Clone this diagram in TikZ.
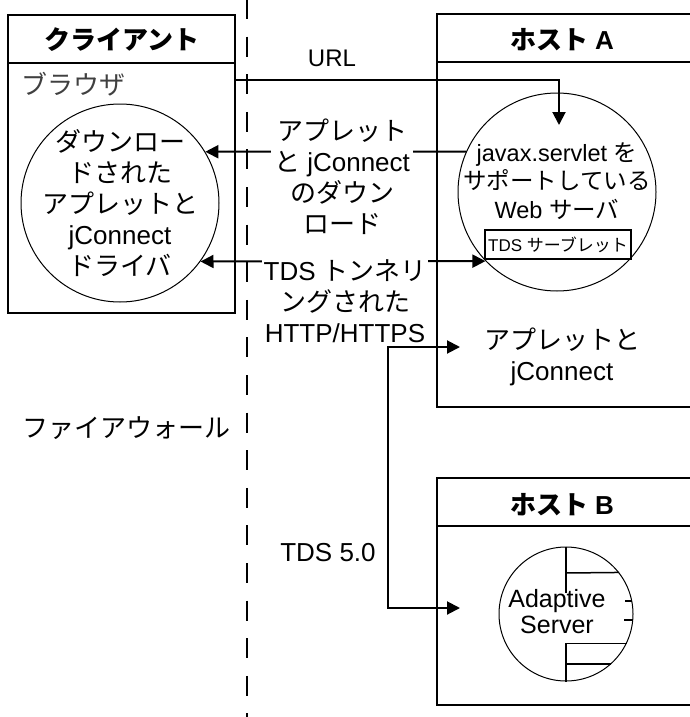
\documentclass[tikz,border=0pt]{standalone}
\usepackage{fontspec}
\setmainfont{Liberation Sans}
\newfontfamily\jp{Noto Sans CJK JP}
\newcommand{\ja}[1]{{\jp #1}}
\usetikzlibrary{arrows.meta}
\usetikzlibrary{shapes}

\begin{document}
\begin{tikzpicture}[x=1pt, y=-1pt,
        frame/.style={line width=2pt},
        proc/.style={circle, draw, line width=1pt, inner sep=0pt},
        lbl/.style={align=center, font=\fontsize{26}{31}\selectfont},
        head/.style={font=\fontsize{26}{31}\selectfont\bfseries},
        arr/.style={line width=2pt, -{Triangle[length=13pt,width=13pt]}},
        arrs/.style={line width=2pt, {Triangle[length=13pt,width=13pt]}-{Triangle[length=13pt,width=13pt]}}]
        \useasboundingbox (0,0) rectangle (690,717);
        \draw[line width=2pt, dash pattern=on 20pt off 17.6pt] (247,-1) -- (247,717);

        \node[frame, draw, inner sep=0pt, minimum width=227pt, minimum height=298pt] (client) at (121.5,164) {};
        \draw[frame] (client.west |- 0,63) -- (client.east |- 0,63);
        \node[head] (clhead) at (122,40) {\ja{クライアント}};
        \node[lbl, text=black!75, anchor=west] (browser) at (18,84) {\ja{ブラウザ}};
        \node[proc, minimum size=198pt] (cl) at (120,203) {};
        \node[lbl] (cltext) at (cl) {\ja{ダウンロー}\\ \ja{ドされた}\\ \ja{アプレットと}\\ jConnect\\ \ja{ドライバ}};

        \draw[frame] (690,14) -- (437,14) -- (437,407) -- (690,407);
        \draw[frame] (437,62) -- (690,62);
        \node[head] (hahead) at (562,40) {\ja{ホスト} A};
        \node[proc, minimum size=198pt] (web) at (557,192) {};
        \node[lbl, font=\fontsize{23.5}{28.5}\selectfont] (webtext) at (557,181) {javax.servlet \ja{を}\\ \ja{サポートしている}\\ Web \ja{サーバ}};
        \node[draw, line width=1.5pt, minimum width=146pt, minimum height=29pt, inner sep=1pt,
            font=\fontsize{17}{20}\selectfont] (servlet) at (558,244.5) {TDS \ja{サーブレット}};
        \node[lbl] (ajc) at (562,357) {\ja{アプレットと}\\ jConnect};

        \draw[frame] (690,478) -- (437,478) -- (437,705) -- (690,705);
        \draw[frame] (437,526) -- (690,526);
        \node[head] (hbhead) at (562,505) {\ja{ホスト} B};
        \node[proc, minimum size=134pt] (as) at (566,614) {};
        \node[lbl, font=\fontsize{25}{26}\selectfont] (astext) at (557,612) {Adaptive\\ Server};
        \draw[line width=1.5pt] (as.north) -- ++(0,46);
        \draw[line width=1.5pt] (as.north |- 0,573) -- (as.38);
        \draw[line width=1.5pt] ([xshift=-7pt]as.11) -- (as.11);
        \draw[line width=1.5pt] ([xshift=-9pt]as.-5) -- (as.-5);
        \draw[line width=1.5pt] (as.-26) -- (as.south |- as.-26) -- (as.south);
        \draw[line width=1.5pt] (as.south |- as.-48) -- (as.-48);

        \coordinate (urlend) at (559,125);
        \draw[arr] (client.east |- 0,80) -| (urlend);
        \node[lbl, font=\fontsize{24}{31}\selectfont] (url) at (332,58) {URL};
        \draw[arr] (web.156) -- (cl.31);
        \node[lbl, fill=white, inner sep=3pt] (dl) at (342,177) {\ja{アプレット}\\ \ja{と} jConnect\\ \ja{のダウン}\\ \ja{ロード}};
        \draw[arrs] (cl.-36) -- (web.224);
        \node[lbl, fill=white, inner sep=2pt] (tunnel) at (345,301) {TDS \ja{トンネリ}\\ \ja{ングされた}\\ HTTP/HTTPS};
        \coordinate (tdsa) at (460,347);
        \coordinate (tdsb) at (460,608);
        \draw[arrs] (tdsa) -- ++(-72,0) |- (tdsb);
        \node[lbl] (tds) at (328,553) {TDS 5.0};
        \node[lbl] (fw) at (126,428) {\ja{ファイアウォール}};
    \end{tikzpicture}
\end{document}
